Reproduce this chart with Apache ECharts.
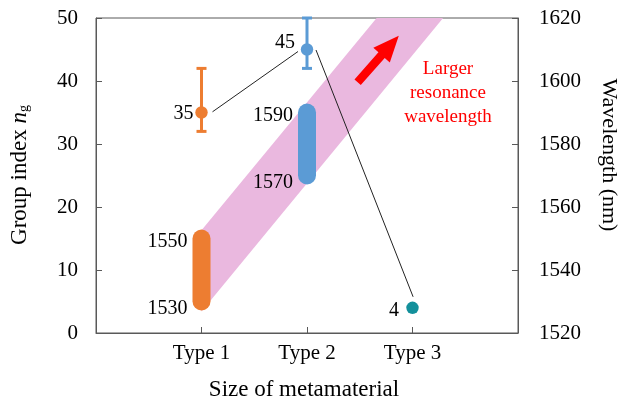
<!DOCTYPE html>
<html>
<head>
<meta charset="utf-8">
<script src="https://cdn.jsdelivr.net/npm/echarts@6/dist/echarts.min.js"></script>
<style>
html,body{margin:0;padding:0;background:#fff;}
#chart{width:621px;height:404px;}
</style>
</head>
<body>
<div id="chart"></div>
<script>
// ---- data ----
const categories = ['Type 1', 'Type 2', 'Type 3'];
const groupIndex = [35, 45, 4];
const errLow = [32, 42, null];
const errHigh = [42, 50, null];
const wavelengthRanges = [[1530, 1550], [1570, 1590]];
const pointColors = ['#ED7D31', '#5B9BD5', '#13909B'];
// pink band (group-index units, x = category position)
const bandLower = [[1, 3.4], [3.29, 50]];
const bandUpper = [[1, 16.3], [2.66, 50]];
// arrow annotation (tail, tip)
const arrowTail = [2.48, 39.8];
const arrowTip = [2.87, 47.2];
const yLeftTicks = [0, 50, 10];
const yRightTicks = [1520, 1620, 20];

const FONT = "'Liberation Serif', 'Times New Roman', serif";
const AXC = '#595959';
const chart = echarts.init(document.getElementById('chart'));

const xPos = categories.map((c, i) => i + 1);

const option = {
  animation: false,
  grid: { left: 96, right: 103, top: 18, bottom: 71, show: true, borderColor: AXC, borderWidth: 1 },
  xAxis: {
    type: 'value', min: 0, max: 4, interval: 1,
    axisLine: { show: true, lineStyle: { color: AXC } },
    axisTick: { show: true, inside: true, length: 6, lineStyle: { color: AXC } },
    splitLine: { show: false },
    axisLabel: { margin: 10, color: '#000', fontFamily: FONT, fontSize: 21,
      formatter: v => categories[v - 1] || '' }
  },
  yAxis: [
    { type: 'value', min: yLeftTicks[0], max: yLeftTicks[1], interval: yLeftTicks[2],
      axisLine: { show: true, lineStyle: { color: AXC } },
      axisTick: { show: true, inside: true, length: 6, lineStyle: { color: AXC } },
      splitLine: { show: false },
      axisLabel: { margin: 18, color: '#000', fontFamily: FONT, fontSize: 21, formatter: v => String(v) } },
    { type: 'value', position: 'right', min: yRightTicks[0], max: yRightTicks[1], interval: yRightTicks[2],
      axisLine: { show: true, lineStyle: { color: AXC } },
      axisTick: { show: true, inside: true, length: 6, lineStyle: { color: AXC } },
      splitLine: { show: false },
      axisLabel: { margin: 21, color: '#000', fontFamily: FONT, fontSize: 21, formatter: v => String(v) } }
  ],
  graphic: [
    { type: 'text', x: 20, y: 175, rotation: Math.PI / 2,
      style: { text: '{a|Group index }{i|n}{s|g}', x: 0, y: 0, align: 'center', verticalAlign: 'middle',
        rich: {
          a: { fontFamily: FONT, fontSize: 23, fill: '#000' },
          i: { fontFamily: FONT, fontSize: 23, fontStyle: 'italic', fill: '#000' },
          s: { fontFamily: FONT, fontSize: 14, fill: '#000', verticalAlign: 'bottom' }
        } } },
    { type: 'text', x: 609, y: 155, rotation: -Math.PI / 2,
      style: { text: 'Wavelength (nm)', x: 0, y: 0, align: 'center', verticalAlign: 'middle',
        font: '22px ' + FONT, fill: '#000' } },
    { type: 'text', x: 304, y: 390,
      style: { text: 'Size of metamaterial', x: 0, y: 0, align: 'center', verticalAlign: 'middle',
        font: '23px ' + FONT, fill: '#000' } },
    { type: 'text', x: 448, y: 93,
      style: { text: 'Larger\nresonance\nwavelength', x: 0, y: 0, align: 'center', verticalAlign: 'middle',
        font: '19px ' + FONT, lineHeight: 24, fill: '#FF0000' } }
  ],
  series: [
    // pink band
    { type: 'custom', xAxisIndex: 0, yAxisIndex: 0, z: 1, silent: true,
      data: [[bandLower[0][0], bandLower[0][1], bandUpper[0][1], bandUpper[1][0], bandLower[1][0], bandUpper[1][1]]],
      renderItem: function (params, api) {
        const pts = [
          api.coord(bandLower[0]), api.coord(bandUpper[0]),
          api.coord(bandUpper[1]), api.coord(bandLower[1])
        ];
        return { type: 'polygon', shape: { points: pts }, style: { fill: '#EAB8DF' } };
      } },
    // arrow
    { type: 'custom', xAxisIndex: 0, yAxisIndex: 0, z: 2, silent: true,
      data: [[arrowTail[0], arrowTail[1], arrowTip[0], arrowTip[1]]],
      renderItem: function (params, api) {
        const t = api.coord([api.value(0), api.value(1)]);
        const h = api.coord([api.value(2), api.value(3)]);
        const dx = h[0] - t[0], dy = h[1] - t[1];
        const L = Math.sqrt(dx * dx + dy * dy);
        const ux = dx / L, uy = dy / L, nx = -uy, ny = ux;
        const headLen = 26, headHalf = 11, shaftHalf = 4.2;
        const bx = h[0] - ux * headLen, by = h[1] - uy * headLen;
        return { type: 'polygon', shape: { points: [
            [t[0] + nx * shaftHalf, t[1] + ny * shaftHalf],
            [bx + nx * shaftHalf, by + ny * shaftHalf],
            [bx + nx * headHalf, by + ny * headHalf],
            [h[0], h[1]],
            [bx - nx * headHalf, by - ny * headHalf],
            [bx - nx * shaftHalf, by - ny * shaftHalf],
            [t[0] - nx * shaftHalf, t[1] - ny * shaftHalf]
          ] }, style: { fill: '#FF0000' } };
      } },
    // leader lines
    { type: 'custom', xAxisIndex: 0, yAxisIndex: 0, z: 3, silent: true,
      data: xPos.map((x, i) => [x, groupIndex[i]]),
      renderItem: function (params, api) {
        const i = params.dataIndex;
        if (i === 0) return null;
        const a = api.coord([xPos[i - 1], groupIndex[i - 1]]);
        const b = api.coord([xPos[i], groupIndex[i]]);
        let s, e;
        if (i === 1) { s = [a[0] + 11, a[1] - 0.7]; e = [b[0] - 9, b[1] + 2]; }
        else { s = [a[0] + 9, a[1] + 0.5]; e = [b[0] + 0.6, b[1] - 11]; }
        return { type: 'line', shape: { x1: s[0], y1: s[1], x2: e[0], y2: e[1] },
          style: { stroke: '#222', lineWidth: 1 } };
      } },
    // wavelength bars (right axis)
    { type: 'custom', xAxisIndex: 0, yAxisIndex: 1, z: 4, silent: true,
      data: wavelengthRanges.map((r, i) => [xPos[i], r[0], r[1]]),
      renderItem: function (params, api) {
        const x = api.value(0), lo = api.value(1), hi = api.value(2);
        const p1 = api.coord([x, lo]), p2 = api.coord([x, hi]);
        const col = pointColors[params.dataIndex];
        return { type: 'group', children: [
          { type: 'line', shape: { x1: p1[0], y1: p1[1], x2: p2[0], y2: p2[1] },
            style: { stroke: col, lineWidth: 18, lineCap: 'round' } },
          { type: 'text', style: { text: String(hi), x: p2[0] - 14, y: p2[1] + 3, align: 'right', verticalAlign: 'middle',
            font: '20px ' + FONT, fill: '#000' } },
          { type: 'text', style: { text: String(lo), x: p1[0] - 14, y: p1[1] + 7, align: 'right', verticalAlign: 'middle',
            font: '20px ' + FONT, fill: '#000' } }
        ] };
      } },
    // points with error bars
    { type: 'custom', xAxisIndex: 0, yAxisIndex: 0, z: 5, silent: true,
      data: xPos.map((x, i) => [x, groupIndex[i], errLow[i] == null ? '-' : errLow[i], errHigh[i] == null ? '-' : errHigh[i]]),
      renderItem: function (params, api) {
        const i = params.dataIndex;
        const col = pointColors[i];
        const p = api.coord([api.value(0), api.value(1)]);
        const children = [];
        if (errLow[i] != null) {
          const lo = api.coord([xPos[i], errLow[i]]), hi = api.coord([xPos[i], errHigh[i]]);
          children.push({ type: 'line', shape: { x1: lo[0], y1: lo[1], x2: hi[0], y2: hi[1] }, style: { stroke: col, lineWidth: 3 } });
          children.push({ type: 'line', shape: { x1: lo[0] - 5, y1: lo[1], x2: lo[0] + 5, y2: lo[1] }, style: { stroke: col, lineWidth: 3 } });
          children.push({ type: 'line', shape: { x1: hi[0] - 5, y1: hi[1], x2: hi[0] + 5, y2: hi[1] }, style: { stroke: col, lineWidth: 3 } });
        }
        children.push({ type: 'circle', shape: { cx: p[0], cy: p[1], r: 6.2 }, style: { fill: col } });
        const off = [[-8, 1], [-12, -6.5], [-13.5, 2.5]][i];
        children.push({ type: 'text', style: { text: String(groupIndex[i]), x: p[0] + off[0], y: p[1] + off[1],
          align: 'right', verticalAlign: 'middle', font: '20px ' + FONT, fill: '#000' } });
        return { type: 'group', children: children };
      } }
  ]
};
chart.setOption(option);
</script>
</body>
</html>
